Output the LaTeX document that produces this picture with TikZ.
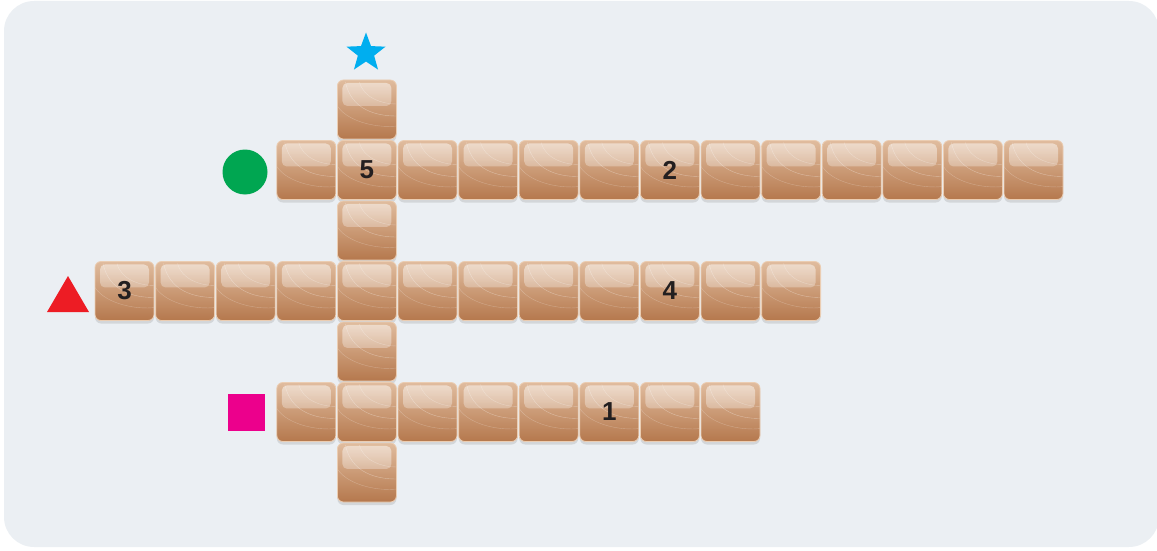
\documentclass[tikz,border=0pt]{standalone}
\usepackage{fontspec}
\setmainfont{Liberation Sans}
\usetikzlibrary{shapes.geometric,shadows,fadings}
\definecolor{bgcol}{HTML}{EBEFF3}
\definecolor{tiletop}{HTML}{E0BC9E}
\definecolor{tilemid}{HTML}{D4A683}
\definecolor{tilebot}{HTML}{B5784D}
\definecolor{tileedge}{HTML}{EBCDB2}
\definecolor{numcol}{HTML}{231F20}
\definecolor{starblue}{HTML}{00AEEF}
\definecolor{dotgreen}{HTML}{00A651}
\definecolor{trired}{HTML}{ED1C24}
\definecolor{sqmag}{HTML}{EC008C}
\tikzset{
  tile/.style={rectangle, rounded corners=6pt, minimum width=59pt, minimum height=59pt,
    inner sep=0pt, draw=tileedge, line width=0.8pt,
    top color=tiletop, middle color=tilemid, bottom color=tilebot,
    font=\fontsize{26}{26}\selectfont\bfseries, text=numcol,
    drop shadow={shadow xshift=0pt, shadow yshift=-3pt, opacity=0.22, fill=gray},
    path picture={
      \fill[white, path fading=south, opacity=0.5, rounded corners=5pt]
        ([xshift=5pt,yshift=-3pt]path picture bounding box.north west) rectangle
        ([xshift=-5pt,yshift=-26pt]path picture bounding box.north east);
      \draw[white, opacity=0.35, line width=0.4pt]
        ([xshift=8pt,yshift=-2pt]path picture bounding box.north west) .. controls
        ([xshift=14pt,yshift=-30pt]path picture bounding box.north west) and
        ([xshift=-20pt,yshift=-36pt]path picture bounding box.north east) ..
        ([xshift=0pt,yshift=-36pt]path picture bounding box.north east);
      \draw[white, opacity=0.3, line width=0.4pt]
        ([xshift=22pt,yshift=-2pt]path picture bounding box.north west) .. controls
        ([xshift=26pt,yshift=-18pt]path picture bounding box.north west) and
        ([xshift=-14pt,yshift=-24pt]path picture bounding box.north east) ..
        ([xshift=0pt,yshift=-24pt]path picture bounding box.north east);
      \draw[white, opacity=0.25, line width=0.4pt]
        ([xshift=0pt,yshift=-26pt]path picture bounding box.north west) .. controls
        ([xshift=12pt,yshift=-44pt]path picture bounding box.north west) and
        ([xshift=-14pt,yshift=-48pt]path picture bounding box.north east) ..
        ([xshift=0pt,yshift=-46pt]path picture bounding box.north east);
    }}
}
\newcommand{\tileat}[3]{%
  \pgfmathsetmacro{\tx}{95+60.6*#1+29.5}%
  \pgfmathsetmacro{\ty}{80+60.5*#2+29.5}%
  \node[tile] (t-#1-#2) at (\tx,\ty) {#3};}
\begin{document}
\begin{tikzpicture}[x=1pt,y=-1pt]
\useasboundingbox (0,0) rectangle (1157,551);
\fill[bgcol, rounded corners=30pt] (4,1) rectangle (1159,547);
% row 0 (top of column)
\tileat{4}{0}{}
% row 1
\foreach \k in {3,5,6,7,8,10,11,12,13,14,15} {\tileat{\k}{1}{}}
\tileat{4}{1}{5}
\tileat{9}{1}{2}
% row 2
\tileat{4}{2}{}
% row 3
\foreach \k in {1,2,3,4,5,6,7,8,10,11} {\tileat{\k}{3}{}}
\tileat{0}{3}{3}
\tileat{9}{3}{4}
% row 4
\tileat{4}{4}{}
% row 5
\foreach \k in {3,4,5,6,7,9,10} {\tileat{\k}{5}{}}
\tileat{8}{5}{1}
% row 6
\tileat{4}{6}{}
% markers
\node[star, star points=5, star point ratio=2.4, fill=starblue, inner sep=0pt, minimum size=41pt] (star) at (366,53) {};
\node[circle, fill=dotgreen, inner sep=0pt, minimum size=45pt] (dot) at (245,172) {};
\fill[trired] (68,276) -- (89,312) -- (47,312) -- cycle;
\node[rectangle, fill=sqmag, inner sep=0pt, minimum size=37pt] (sq) at (246.5,412.5) {};
\end{tikzpicture}
\end{document}
